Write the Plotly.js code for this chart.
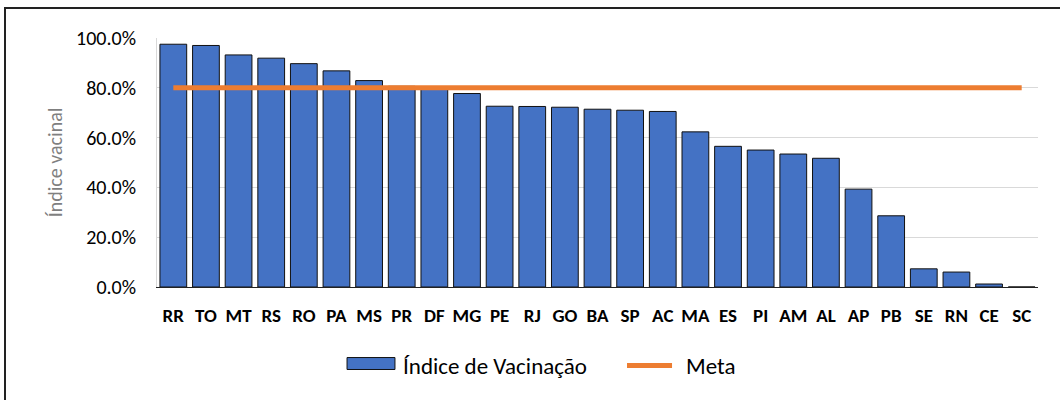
<!DOCTYPE html>
<html>
<head>
<meta charset="utf-8">
<script src="https://cdn.plot.ly/plotly-3.0.1.min.js"></script>
<style>
  html, body { margin: 0; padding: 0; background: #fff; overflow: hidden; }
  #wrap { position: relative; width: 1060px; height: 400px; }
  #chart { position: absolute; left: 0; top: 0; width: 1060px; height: 400px; }
  #frame { position: absolute; left: 4px; top: 7px; width: 1100px; height: 440px;
           border: 2px solid #222; pointer-events: none; box-sizing: border-box; }
</style>
</head>
<body>
<div id="wrap">
  <div id="chart"></div>
  <div id="frame"></div>
</div>
<script>
const estados = ["RR","TO","MT","RS","RO","PA","MS","PR","DF","MG","PE","RJ","GO","BA","SP","AC","MA","ES","PI","AM","AL","AP","PB","SE","RN","CE","SC"];
const indiceVacinacao = [0.975,0.970,0.932,0.919,0.897,0.868,0.829,0.806,0.802,0.777,0.726,0.725,0.722,0.714,0.710,0.705,0.623,0.565,0.550,0.534,0.517,0.393,0.286,0.073,0.060,0.012,0.000];
const meta = estados.map(() => 0.80);
const nomeSerie1 = "Índice de Vacinação";
const nomeSerie2 = "Meta";
const tituloY = "Índice vacinal";

const FONT = "Carlito, Calibri, Lato, 'Open Sans', sans-serif";
const BLUE = "#4472C4";
const ORANGE = "#ED7D31";

const traces = [
  {
    type: "bar",
    name: nomeSerie1,
    x: estados,
    y: indiceVacinacao,
    marker: { color: BLUE, line: { color: "#111", width: 1 } },
    showlegend: false,
    hoverinfo: "x+y"
  },
  {
    type: "scatter",
    mode: "lines",
    name: nomeSerie2,
    x: estados,
    y: meta,
    line: { color: ORANGE, width: 5 },
    showlegend: false
  }
];

const layout = {
  width: 1060,
  height: 400,
  margin: { l: 157, r: 22, t: 38, b: 113 },
  paper_bgcolor: "rgba(0,0,0,0)",
  plot_bgcolor: "rgba(0,0,0,0)",
  font: { family: FONT, color: "#000" },
  bargap: 0.18,
  xaxis: {
    type: "category",
    range: [-0.5, estados.length - 0.5],
    showgrid: false,
    showline: true,
    linecolor: "#222",
    linewidth: 1,
    ticks: "",
    tickfont: { family: FONT, size: 19, color: "#000", weight: "bold" },
    ticklabelstandoff: 11,
    fixedrange: true
  },
  yaxis: {
    range: [0, 1.0],
    dtick: 0.2,
    tickformat: ".1%",
    showgrid: true,
    gridcolor: "#d9d9d9",
    gridwidth: 1,
    zeroline: false,
    showline: true,
    linecolor: "#d9d9d9",
    linewidth: 1,
    ticks: "",
    ticklabelstandoff: 16,
    tickfont: { family: FONT, size: 20, color: "#000" },
    title: { text: tituloY, font: { family: FONT, size: 20, color: "#7f7f7f" }, standoff: 8 },
    fixedrange: true
  },
  shapes: [
    { type: "rect", xref: "paper", yref: "paper",
      x0: 0.2157, x1: 0.2701, y0: -0.3313, y1: -0.2833,
      fillcolor: BLUE, line: { color: "#111", width: 1 } },
    { type: "line", xref: "paper", yref: "paper",
      x0: 0.5335, x1: 0.5846, y0: -0.3153, y1: -0.3153,
      line: { color: ORANGE, width: 5 } }
  ],
  annotations: [
    { xref: "paper", yref: "paper", x: 0.2775, y: -0.3153, xanchor: "left", yanchor: "middle",
      text: nomeSerie1, showarrow: false, font: { family: FONT, size: 23, color: "#000" } },
    { xref: "paper", yref: "paper", x: 0.5980, y: -0.3153, xanchor: "left", yanchor: "middle",
      text: nomeSerie2, showarrow: false, font: { family: FONT, size: 23, color: "#000" } }
  ]
};

Plotly.newPlot("chart", traces, layout, { displayModeBar: false, staticPlot: true });
</script>
</body>
</html>
